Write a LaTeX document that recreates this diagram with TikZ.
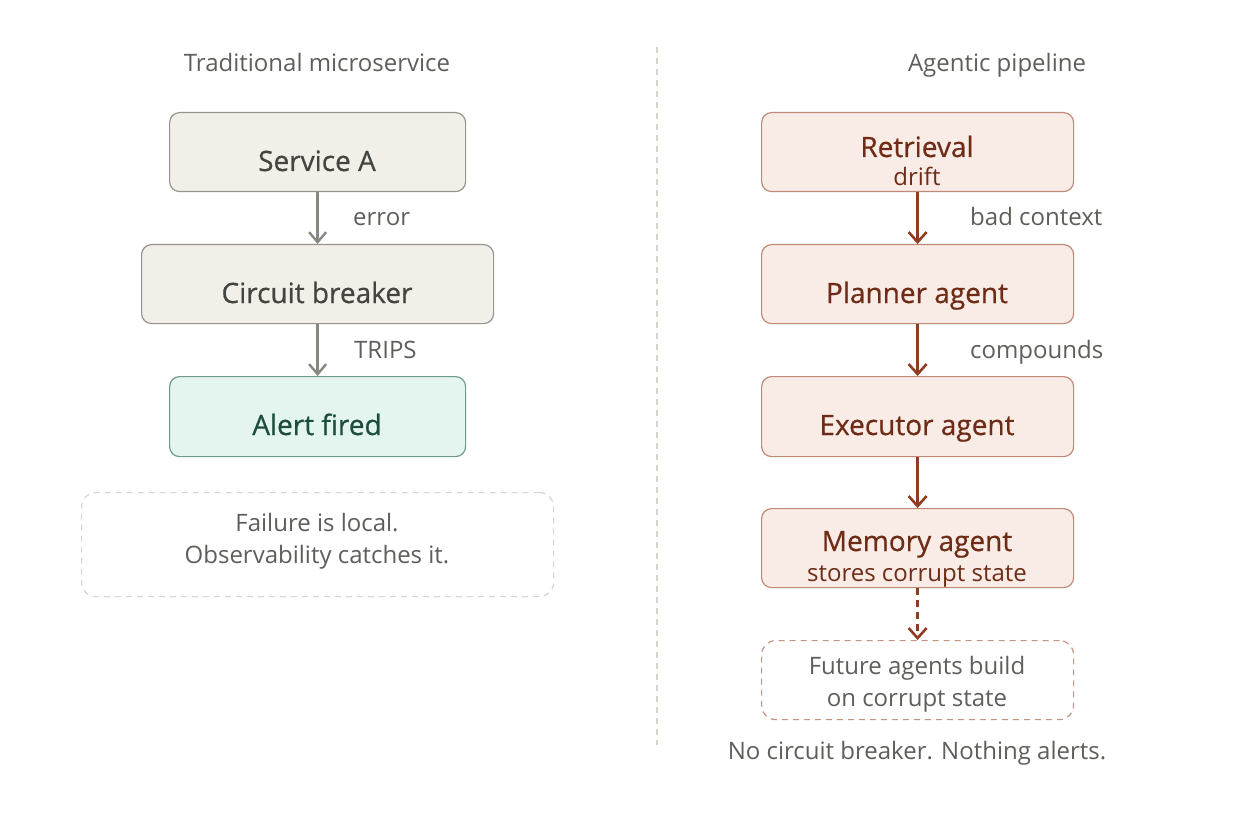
\documentclass[tikz,border=0pt]{standalone}
\usepackage{fontspec}
\setmainfont{Open Sans}
\newfontfamily\medfont{Open Sans}[FakeBold=0.6]
\usetikzlibrary{arrows.meta}
\definecolor{txtgray}{HTML}{5F5E5A}
\definecolor{txtdark}{HTML}{444441}
\definecolor{grayfill}{HTML}{F1EFE8}
\definecolor{graystroke}{HTML}{959490}
\definecolor{grayarrow}{HTML}{888780}
\definecolor{greenfill}{HTML}{E3F5EE}
\definecolor{greenstroke}{HTML}{6F9C8A}
\definecolor{greentext}{HTML}{1D4D3C}
\definecolor{brownfill}{HTML}{F9ECE7}
\definecolor{brownstroke}{HTML}{BE8A77}
\definecolor{brownarrow}{HTML}{8F3D22}
\definecolor{browntext}{HTML}{6E2C16}
\definecolor{lightdash}{HTML}{D6D4CC}
\definecolor{browndash}{HTML}{C39483}
\begin{document}
\begin{tikzpicture}[x=1pt,y=-1pt,
  box/.style={draw, rounded corners=10pt, line width=1.2pt, inner sep=0pt, anchor=north west},
  graybox/.style={box, fill=grayfill, draw=graystroke},
  greenbox/.style={box, fill=greenfill, draw=greenstroke},
  brownbox/.style={box, fill=brownfill, draw=brownstroke},
  notebox/.style={box, fill=white, dashed, dash pattern=on 6pt off 5pt, rounded corners=14pt},
  maintxt/.style={anchor=base, font=\medfont\fontsize{28}{32}\selectfont, inner sep=0pt},
  subtxt/.style={anchor=base, font=\fontsize{24}{28}\selectfont, inner sep=0pt},
  lbl/.style={anchor=base west, font=\fontsize{24}{28}\selectfont, inner sep=0pt, text=txtgray},
  grayflow/.style={draw=grayarrow, line width=2.4pt, -{Straight Barb[length=10pt,width=17pt,line width=2.4pt]}},
  brownflow/.style={draw=brownarrow, line width=2.6pt, -{Straight Barb[length=10pt,width=18pt,line width=2.6pt]}}
]
\useasboundingbox (0,0) rectangle (1252,818);
\fill[white] (0,0) rectangle (1252,818);

% divider
\draw[lightdash, line width=1.3pt, dash pattern=on 6pt off 5pt] (657,47) -- (657,745);

% titles
\node[subtxt, text=txtgray] (tleft) at (317,72) {Traditional microservice};
\node[subtxt, text=txtgray] (tright) at (997,72) {Agentic pipeline};

% left column
\node[graybox, minimum width=296pt, minimum height=79pt] (svc) at (169,112) {};
\node[maintxt, text=txtdark] (svct) at (317,171) {Service A};
\node[graybox, minimum width=352pt, minimum height=79pt] (cb) at (141,244) {};
\node[maintxt, text=txtdark] (cbt) at (317,303) {Circuit breaker};
\node[greenbox, minimum width=296pt, minimum height=80pt] (al) at (169,376) {};
\node[maintxt, text=greentext] (alt) at (317,435) {Alert fired};
\node[notebox, draw=lightdash, minimum width=472pt, minimum height=104pt] (loc) at (81,492) {};
\node[subtxt, text=txtgray] (loct1) at (317,531) {Failure is local.};
\node[subtxt, text=txtgray] (loct2) at (317,563) {Observability catches it.};

\draw[grayflow] (svc.south) -- (cb.north);
\draw[grayflow] (cb.south) -- (al.north);
\node[lbl] (lerr) at (353,226) {error};
\node[lbl] (ltrips) at (354,358) {TRIPS};

% right column
\node[brownbox, minimum width=312pt, minimum height=79pt] (ret) at (761,112) {};
\node[maintxt, text=browntext] (rett) at (917,157) {Retrieval};
\node[subtxt, text=browntext] (rets) at (917,186) {drift};
\node[brownbox, minimum width=312pt, minimum height=79pt] (pl) at (761,244) {};
\node[maintxt, text=browntext] (plt) at (917,303) {Planner agent};
\node[brownbox, minimum width=312pt, minimum height=80pt] (ex) at (761,376) {};
\node[maintxt, text=browntext] (ext) at (917,435) {Executor agent};
\node[brownbox, minimum width=312pt, minimum height=79pt] (mem) at (761,508) {};
\node[maintxt, text=browntext] (memt) at (917,551) {Memory agent};
\node[subtxt, text=browntext] (mems) at (917,581) {stores corrupt state};
\node[notebox, draw=browndash, minimum width=312pt, minimum height=79pt] (fut) at (761,640) {};
\node[subtxt, text=txtgray] (futt1) at (917,674) {Future agents build};
\node[subtxt, text=txtgray] (futt2) at (917,706) {on corrupt state};
\node[subtxt, text=txtgray] (none) at (917,759) {No circuit breaker. Nothing alerts.};

\draw[brownflow] (ret.south) -- (pl.north);
\draw[brownflow] (pl.south) -- (ex.north);
\draw[brownflow] (ex.south) -- (mem.north);
\draw[brownflow, dash pattern=on 7pt off 5pt] (mem.south) -- (fut.north);
\node[lbl] (lbad) at (970,226) {bad context};
\node[lbl] (lcomp) at (970,358) {compounds};
\end{tikzpicture}
\end{document}
